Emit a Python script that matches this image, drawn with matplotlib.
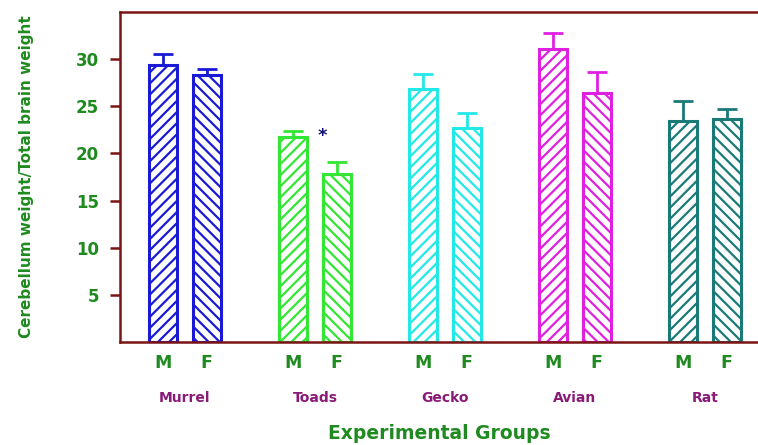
import matplotlib
matplotlib.use("Agg")
import matplotlib.pyplot as plt
from matplotlib import font_manager
import numpy as np

groups = ["Murrel", "Toads", "Gecko", "Avian", "Rat"]
sexes = ["M", "F"]
male_mean = [29.4, 21.7, 26.8, 31.1, 23.4]
male_err = [1.1, 0.7, 1.6, 1.7, 2.2]
female_mean = [28.3, 17.8, 22.7, 26.4, 23.7]
female_err = [0.6, 1.3, 1.6, 2.2, 1.0]
group_colors = ["#1a1ad6", "#33e633", "#22e8e8", "#e020e0", "#1a7a78"]
yticks = [5, 10, 15, 20, 25, 30]

spine_col = "#7a1414"
tick_green = "#1f8a1f"
group_purple = "#8a1a78"

installed = {f.name for f in font_manager.fontManager.ttflist}
narrow = "Liberation Sans Narrow" if "Liberation Sans Narrow" in installed else "DejaVu Sans"
ylab_size = 13.5 if narrow == "Liberation Sans Narrow" else 11

plt.rcParams["hatch.linewidth"] = 1.6

fig = plt.figure(figsize=(7.58, 4.45), dpi=100)
ax = fig.add_axes([0.1583, 0.2315, 0.8417, 0.7416])

x = np.arange(len(groups))
offset = 0.168
width = 0.215

for i in range(len(groups)):
    c = group_colors[i]
    for dx, mean, err, hatch in [(-offset, male_mean[i], male_err[i], "///"),
                                 (offset, female_mean[i], female_err[i], "\\\\\\")]:
        ax.bar(x[i] + dx, mean, width=width, facecolor="white", edgecolor=c,
               linewidth=2.2, hatch=hatch, zorder=2)
        ax.errorbar(x[i] + dx, mean, yerr=[[0], [err]], fmt="none", ecolor=c,
                    elinewidth=2.0, capsize=7.5, capthick=2.0, zorder=3)

# significance marker on the toad group
ax.text(x[1] + 0.06, male_mean[1] + male_err[1] - 0.6, "*", color="#101070",
        fontsize=13, fontweight="bold", ha="center", va="center")

ax.set_xlim(-0.5, 4.41)
ax.set_ylim(0, 35)

ax.set_yticks(yticks)
ax.set_yticklabels([str(v) for v in yticks], fontsize=12, fontweight="bold",
                   color=tick_green)
ax.tick_params(axis="y", direction="out", length=7, width=1.8, color=spine_col, pad=8)

pos = np.concatenate([x - offset, x + offset])
labs = ["M"] * len(groups) + ["F"] * len(groups)
ax.set_xticks(pos)
ax.set_xticklabels(labs, fontsize=12.5, fontweight="bold", color=tick_green)
ax.tick_params(axis="x", length=0, pad=9)

for i, g in enumerate(groups):
    ax.text(x[i], -0.17, g, transform=ax.get_xaxis_transform(), ha="center",
            va="center", fontsize=10, fontweight="bold", color=group_purple)

ax.set_xlabel("Experimental Groups", fontsize=13.5, fontweight="bold",
              color=tick_green, labelpad=37)
ax.set_ylabel("Cerebellum weight/Total brain weight", fontsize=ylab_size,
              fontweight="bold", color=tick_green, family=[narrow, "DejaVu Sans"],
              labelpad=30)

for side in ["left", "bottom", "top"]:
    ax.spines[side].set_color(spine_col)
    ax.spines[side].set_linewidth(1.8)
ax.spines["right"].set_visible(False)

fig.savefig("out.png", dpi=100)
